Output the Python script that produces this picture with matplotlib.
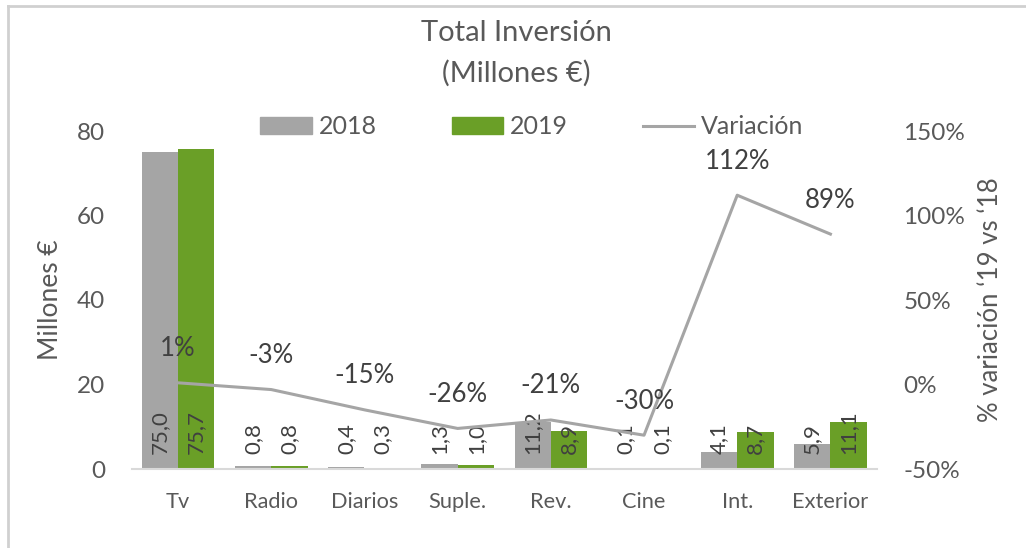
import matplotlib
matplotlib.use("Agg")
import matplotlib.pyplot as plt
from matplotlib.patches import Patch
from matplotlib.lines import Line2D
import numpy as np

categories = ["Tv", "Radio", "Diarios", "Suple.", "Rev.", "Cine", "Int.", "Exterior"]
v2018 = [75.0, 0.8, 0.4, 1.3, 11.2, 0.1, 4.1, 5.9]
v2019 = [75.7, 0.8, 0.3, 1.0, 8.9, 0.1, 8.7, 11.1]
variacion = [1, -3, -15, -26, -21, -30, 112, 89]  # percent
left_ticks = [0, 20, 40, 60, 80]
right_ticks = [-50, 0, 50, 100, 150]

plt.rcParams['font.family'] = ['Lato', 'DejaVu Sans']
TXT = '#595959'
DARK = '#404040'
GRAY = '#A5A5A5'
GREEN = '#6A9F27'

W, H = 1026, 548
fig = plt.figure(figsize=(W / 100, H / 100), dpi=100)
ax = fig.add_axes([131.5 / W, 1 - 469 / H, (877 - 131.5) / W, (469 - 131) / H])
ax2 = ax.twinx()

x = np.arange(len(categories))
bw = 0.39
ax.bar(x - bw / 2, v2018, width=bw, color=GRAY, zorder=2)
ax.bar(x + bw / 2, v2019, width=bw, color=GREEN, zorder=2)
ax.set_xlim(-0.5, len(categories) - 0.5)
ax.set_ylim(0, 80)
ax.set_yticks(left_ticks)
ax.set_xticks(x)
ax.set_xticklabels(categories)

ax.tick_params(axis='y', length=0, pad=19, labelsize=17.5, labelcolor=TXT)
ax.tick_params(axis='x', length=0, pad=16.5, labelsize=15.7, labelcolor=TXT)
for s in ['top', 'left', 'right']:
    ax.spines[s].set_visible(False)
ax.spines['bottom'].set_color('#D9D9D9')
ax.spines['bottom'].set_linewidth(1.5)

ax2.set_ylim(-50, 150)
ax2.set_yticks(right_ticks)
ax2.set_yticklabels([f"{t}%" for t in right_ticks])
ax2.tick_params(axis='y', length=0, pad=19, labelsize=17.5, labelcolor=TXT)
for s in ['top', 'left', 'right', 'bottom']:
    ax2.spines[s].set_visible(False)

ax2.plot(x, variacion, color=GRAY, lw=2.2, zorder=3)

# bar value labels (inside base, rotated)
for xi, a, b in zip(x, v2018, v2019):
    for xx, val in ((xi - bw / 2, a), (xi + bw / 2, b)):
        ax.annotate(f"{val:.1f}".replace('.', ','), (xx, 0), xytext=(0, 15),
                    textcoords='offset pixels', rotation=90, ha='center', va='bottom',
                    fontsize=16, color=DARK, zorder=4)

for xi, v in zip(x, variacion):
    ax2.annotate(f"{v}%", (xi, v), xytext=(0, 34), textcoords='offset pixels',
                 ha='center', va='center', fontsize=18.5, color=DARK, zorder=5)

fig.text(50 / W, 1 - 300 / H, "Millones €", rotation=90, ha='center', va='center',
         fontsize=19, color=TXT)
fig.text(991 / W, 1 - 300 / H, "% variación ‘19 vs ‘18", rotation=90, ha='center', va='center',
         fontsize=18.5, color=TXT)

fig.text(516 / W, 1 - 33 / H, "Total Inversión", ha='center', va='center', fontsize=21, color=TXT)
fig.text(516 / W, 1 - 73 / H, "(Millones €)", ha='center', va='center', fontsize=21, color=TXT)

handles = [Patch(color=GRAY), Patch(color=GREEN), Line2D([0], [0], color=GRAY, lw=2.2)]
fig.legend(handles, ["2018", "2019", "Variación"], loc='center', bbox_to_anchor=(532 / W, 1 - 127 / H),
           ncol=3, frameon=False, fontsize=18, labelcolor=TXT, handlelength=2.05,
           handleheight=0.68, handletextpad=0.28, columnspacing=3.0)

# chart border (top and left visible)
fig.add_artist(Line2D([8 / W, 8 / W], [0, 1 - 6 / H], color='#D0D0D0', lw=2, transform=fig.transFigure))
fig.add_artist(Line2D([8 / W, 1], [1 - 6 / H, 1 - 6 / H], color='#D0D0D0', lw=2, transform=fig.transFigure))

fig.savefig("out.png", dpi=100)
